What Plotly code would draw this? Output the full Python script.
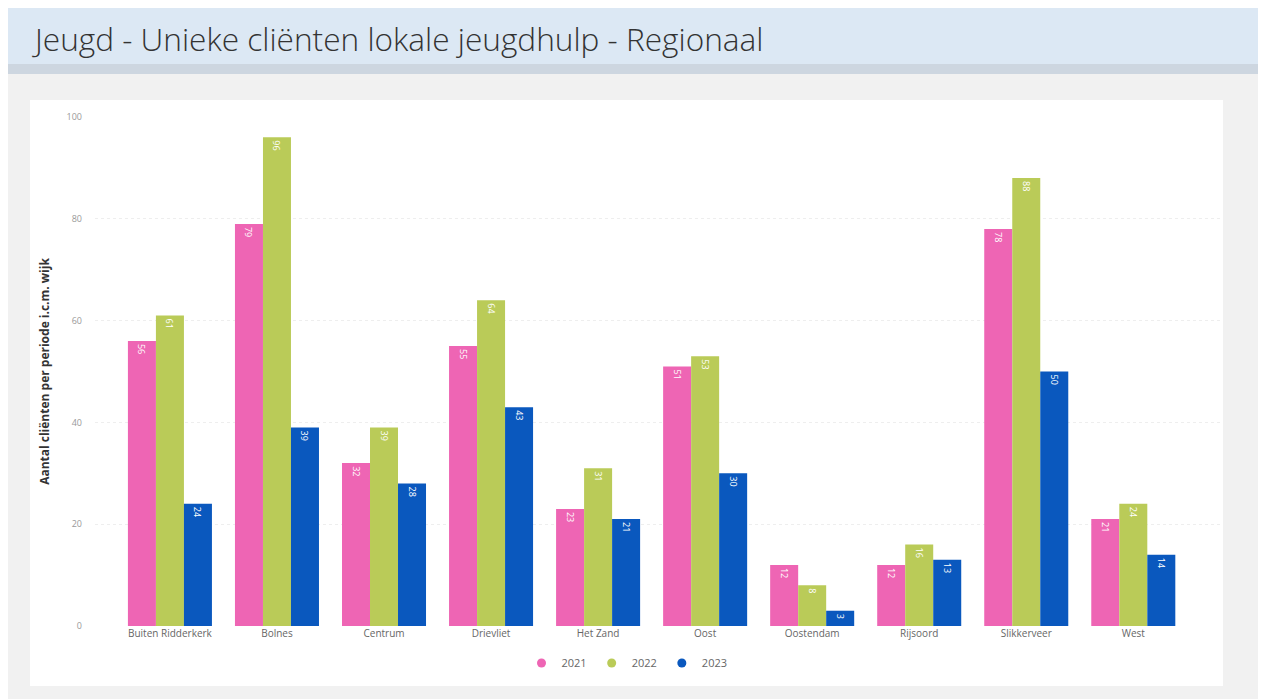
import plotly.graph_objects as go

wijken = ["Buiten Ridderkerk", "Bolnes", "Centrum", "Drievliet", "Het Zand",
          "Oost", "Oostendam", "Rijsoord", "Slikkerveer", "West"]
jaren = ["2021", "2022", "2023"]
clienten_2021 = [56, 79, 32, 55, 23, 51, 12, 12, 78, 21]
clienten_2022 = [61, 96, 39, 64, 31, 53, 8, 16, 88, 24]
clienten_2023 = [24, 39, 28, 43, 21, 30, 3, 13, 50, 14]
kleuren = ["#EE65B4", "#BACB58", "#0A58BE"]

# de pagina heeft 8px marge, dus figuur iets kleiner en alles 8px verschoven
OFF = 8
W, H = 1266 - OFF, 699 - OFF
L, R, T, B = 95 - OFF, 46, 117 - OFF, 73


def px_x(p):
    return (p - OFF - L) / (W - L - R)


def px_y(p):
    return (H - B - (p - OFF)) / (H - T - B)


fig = go.Figure()
for jaar, waarden, kleur in zip(jaren, [clienten_2021, clienten_2022, clienten_2023], kleuren):
    fig.add_trace(go.Bar(
        name=jaar,
        x=list(range(len(wijken))),
        y=waarden,
        marker=dict(color=kleur, line=dict(width=0)),
        text=waarden,
        textposition="inside",
        insidetextanchor="end",
        textangle=90,
        textfont=dict(color="white", size=9, family="Open Sans"),
        hovertemplate="<b>%{customdata}</b><br>" + jaar + ": %{y}<extra></extra>",
        customdata=wijken,
        showlegend=False,
    ))
    # ronde legendasymbolen zoals in Power BI
    fig.add_trace(go.Scatter(
        name=jaar, x=[None], y=[None], mode="markers",
        marker=dict(color=kleur, size=9, symbol="circle"),
        hoverinfo="skip",
    ))

# achtergrond: kopbalk en witte kaart
shapes = [
    dict(type="rect", xref="paper", yref="paper", layer="below",
         x0=px_x(5), x1=px_x(1266), y0=px_y(72), y1=px_y(8),
         fillcolor="#DCE8F4", line=dict(width=0)),
    dict(type="rect", xref="paper", yref="paper", layer="below",
         x0=px_x(5), x1=px_x(1266), y0=px_y(74), y1=px_y(64),
         fillcolor="#CDD6E0", line=dict(width=0)),
    dict(type="rect", xref="paper", yref="paper", layer="below",
         x0=px_x(30), x1=px_x(1223), y0=px_y(686), y1=px_y(100),
         fillcolor="white", line=dict(width=0)),
]

fig.update_layout(
    width=W,
    height=H,
    margin=dict(l=L, r=R, t=T, b=B),
    paper_bgcolor="#F1F1F1",
    plot_bgcolor="white",
    barmode="group",
    bargap=0.215,
    bargroupgap=0,
    shapes=shapes,
    title=dict(
        text="Jeugd - Unieke cliënten lokale jeugdhulp - Regionaal",
        x=(35 - OFF) / W, xanchor="left", y=1 - (40 - OFF) / H, yanchor="middle",
        font=dict(family="Open Sans", size=31.6, color="#333333", weight=300),
    ),
    legend=dict(
        orientation="h", x=px_x(627), xanchor="center", y=px_y(663), yanchor="middle",
        font=dict(family="Open Sans", size=11, color="#666666"),
        itemwidth=30, bgcolor="rgba(0,0,0,0)", tracegroupgap=0,
    ),
    font=dict(family="Open Sans"),
    xaxis=dict(
        tickmode="array",
        tickvals=list(range(len(wijken))),
        ticktext=wijken,
        range=[-0.70, 9.81],
        showgrid=False,
        showline=False,
        zeroline=False,
        tickfont=dict(size=10, color="#666666"),
    ),
    yaxis=dict(
        range=[0, 100],
        dtick=20,
        showgrid=True,
        gridcolor="#EEEEEE",
        griddash="dot",
        zeroline=False,
        showline=False,
        ticklabelstandoff=12,
        tickfont=dict(size=9, color="#999999"),
        title=dict(
            text="<b>Aantal cliënten per periode i.c.m. wijk</b>",
            font=dict(size=12, color="#333333"),
            standoff=14,
        ),
    ),
)

fig.write_html("out.html")
